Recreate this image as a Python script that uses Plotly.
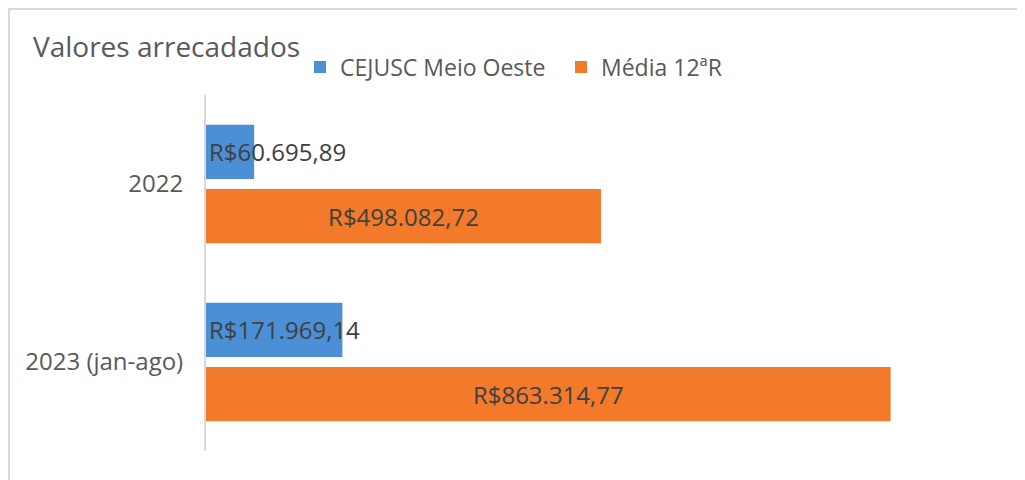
import plotly.graph_objects as go

categories = ["2022", "2023 (jan-ago)"]
cejusc_values = [60695.89, 171969.14]
media_values = [498082.72, 863314.77]
series_names = ["CEJUSC Meio Oeste", "Média 12ªR"]
title_text = "Valores arrecadados"


def brl(v):
    s = f"{v:,.2f}"
    s = s.replace(",", "X").replace(".", ",").replace("X", ".")
    return "R$" + s


W, H = 1025, 480
FONT = "Open Sans"
TXT = "#595959"
LBL = "#404040"

fig = go.Figure()
fig.add_trace(go.Bar(
    y=categories, x=cejusc_values, orientation="h", name=series_names[0],
    marker=dict(color="#4b8fd6", line=dict(width=0)),
    text=[brl(v) for v in cejusc_values],
    textposition="inside", insidetextanchor="start", textangle=0,
    constraintext="none",
    textfont=dict(family=FONT, size=24, color=LBL),
    cliponaxis=False,
))
fig.add_trace(go.Bar(
    y=categories, x=media_values, orientation="h", name=series_names[1],
    marker=dict(color="#f27a2a", line=dict(width=0)),
    text=[brl(v) for v in media_values],
    textposition="inside", insidetextanchor="middle", textangle=0,
    constraintext="none",
    textfont=dict(family=FONT, size=24, color=LBL),
))

fig.update_layout(
    width=W, height=H,
    margin=dict(l=0, r=0, t=0, b=0),
    paper_bgcolor="white", plot_bgcolor="white",
    barmode="group", bargap=0.279, bargroupgap=0.156,
    font=dict(family=FONT, color=TXT),
    title=dict(text=title_text, x=25 / W, y=1 - 39 / H, xanchor="left",
               yanchor="middle", xref="paper", yref="paper",
               font=dict(family=FONT, size=28, color=TXT)),
    legend=dict(orientation="h", x=292 / W, y=1 - 59 / H, xanchor="left",
                yanchor="middle", font=dict(family=FONT, size=23, color=TXT),
                entrywidth=216, entrywidthmode="pixels", traceorder="normal",
                bgcolor="rgba(0,0,0,0)"),
    xaxis=dict(domain=[198 / W, 991 / W], range=[0, 1000000], visible=False,
               fixedrange=True),
    yaxis=dict(domain=[1 - 443 / H, 1 - 87 / H], autorange="reversed",
               type="category", categoryarray=categories, showline=True,
               linecolor="#d9d9d9", linewidth=2, ticks="", showgrid=False,
               tickfont=dict(family=FONT, size=24, color=TXT),
               ticklabelstandoff=16),
    showlegend=True,
    shapes=[dict(type="rect", xref="paper", yref="paper",
                 x0=1 / W, x1=1.05, y0=-0.05, y1=1 - 1 / H,
                 line=dict(color="#d9d9d9", width=2), fillcolor="rgba(0,0,0,0)",
                 layer="below")],
)

fig.write_html("out.html")
